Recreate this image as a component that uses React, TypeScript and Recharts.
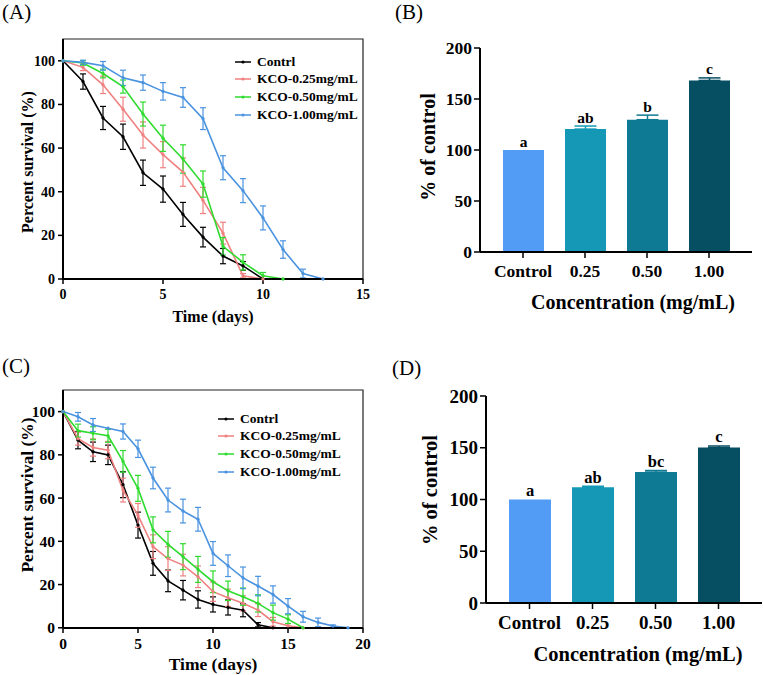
import React from 'react';
import { LineChart, Line, BarChart, Bar, XAxis, YAxis, ErrorBar, ReferenceArea, Legend, LabelList, Label } from 'recharts';

const FONT = 'Liberation Serif, Times New Roman, serif';

const SERIES_NAMES = ['Contrl', 'KCO-0.25mg/mL', 'KCO-0.50mg/mL', 'KCO-1.00mg/mL'];
const SERIES_COLORS = ['#000000', '#F08080', '#2EDB2E', '#4A93E0'];

// (A) survival, first assay
const daysA = [0, 1, 2, 3, 4, 5, 6, 7, 8, 9, 10, 11, 12, 13];
const ctrlA = [100, 90.5, 73.8, 65.2, 48.7, 41.2, 29.6, 19.2, 10.5, 6, 0];
const ctrlErrA = [null, 3.5, 5.3, 5.8, 5.8, 6, 5.5, 4.5, 3.5, 2, null];
const lowA = [100, 97, 89, 77.8, 66, 57, 49, 36, 21, 1.5, 0];
const lowErrA = [null, 1.5, 4, 5.5, 6, 6, 6.5, 6, 5, 1, null];
const midA = [100, 99, 94.2, 88.2, 75.6, 64.5, 55, 43.5, 15, 7.6, 1.5, 0];
const midErrA = [null, 1, 2, 3, 5.5, 6, 6.5, 6, 4, 3.5, 1.5, null];
const highA = [100, 99.3, 97.7, 92.2, 90, 86, 83.2, 73.5, 51, 40.5, 28, 13.5, 2.5, 0];
const highErrA = [null, 1, 2, 3.5, 3.5, 4, 4.5, 5, 5.5, 5.5, 5.5, 4, 2, null];

// (C) survival, second assay
const daysC = [0, 1, 2, 3, 4, 5, 6, 7, 8, 9, 10, 11, 12, 13, 14, 15, 16, 17, 18, 19];
const ctrlC = [100, 86.8, 81.4, 80, 66.2, 47.5, 29.8, 21.7, 17.4, 13.1, 10.8, 9.4, 8.1, 1.4, 0];
const ctrlErrC = [null, 4, 4.5, 4.5, 6, 6, 5.5, 5, 4.5, 4, 3.5, 3.5, 3, 1, null];
const lowC = [100, 87.5, 83.4, 82.2, 63.7, 52, 37.5, 32, 29, 23.6, 16.7, 13.9, 11.3, 8.2, 2.8, 0.9, 0];
const lowErrC = [null, 3, 4, 4, 5.5, 5.5, 5.5, 5.5, 5, 5, 4.5, 4, 3.5, 3, 2, 1, null];
const midC = [100, 91.2, 90, 88.8, 77, 64.5, 45.3, 38.6, 32.9, 27, 21.3, 17.1, 14.4, 11.3, 7, 4, 0];
const midErrC = [null, 3, 3, 3, 5, 6, 6, 6, 6, 6, 5, 4.5, 4, 4, 3.5, 2, null];
const highC = [100, 97.6, 93.8, 92.3, 90.8, 82.8, 69.3, 59.1, 54, 50.2, 34.4, 28.7, 23.1, 19.3, 15.4, 10, 5.1, 2.5, 0.8, 0];
const highErrC = [null, 2, 3, null, 3.5, 4, 5, 5.5, 5.5, 5.5, 5.5, 5, 5, 4.5, 4, 3.5, 2.5, 2, 0.5, null];

const SURVIVAL_TICKS = [0, 20, 40, 60, 80, 100];

// (B) / (D) bar panels
const CONCENTRATIONS = ['Control', '0.25', '0.50', '1.00'];
const BAR_COLORS = ['#529CF6', '#1598B5', '#0E7A93', '#064F62'];
const valuesB = [100, 120.5, 129.7, 168.2];
const errorsB = [0, 3, 4.5, 2.5];
const lettersB = ['a', 'ab', 'b', 'c'];
const valuesD = [100, 111.8, 126.5, 150.2];
const errorsD = [0, 1, 1.5, 1.5];
const lettersD = ['a', 'ab', 'bc', 'c'];
const BAR_TICKS = [0, 50, 100, 150, 200];

const buildRows = (days: number[], series: number[][], errors: (number | null)[][]) =>
  days.map((day, i) => {
    const row: any = { day };
    series.forEach((vals, s) => {
      if (i < vals.length) {
        row[`s${s}`] = vals[i];
        if (errors[s][i] != null) row[`e${s}`] = errors[s][i];
      }
    });
    return row;
  });

const rowsA = buildRows(daysA, [ctrlA, lowA, midA, highA], [ctrlErrA, lowErrA, midErrA, highErrA]);
const rowsC = buildRows(daysC, [ctrlC, lowC, midC, highC], [ctrlErrC, lowErrC, midErrC, highErrC]);

const axisTitle = (text: string, x: number, y: number, fs: number, rotate = false) => () => (
  <text
    x={x}
    y={y}
    textAnchor="middle"
    dominantBaseline={rotate ? 'central' : 'auto'}
    transform={rotate ? `rotate(-90 ${x} ${y})` : undefined}
    style={{ fontFamily: FONT, fontWeight: 700, fontSize: fs }}
    fill="#000"
  >
    {text}
  </text>
);

const tickStyle = (fs: number) => ({ fill: '#000', fontSize: fs, fontWeight: 700, fontFamily: FONT, style: { fontFamily: FONT } });

const SurvivalLegend = ({ payload, rowH }: any) => (
  <div>
    {(payload || []).map((p: any) => (
      <div key={p.value} style={{ display: 'flex', alignItems: 'center', height: rowH }}>
        <svg width={22} height={10} style={{ display: 'block' }}>
          <line x1={0} x2={16} y1={5} y2={5} stroke={p.color} strokeWidth={1.5} />
          <circle cx={8} cy={5} r={1.6} fill={p.color} />
        </svg>
        <span style={{ fontFamily: FONT, fontWeight: 700, fontSize: 13.5, color: '#000', whiteSpace: 'nowrap' }}>{p.value}</span>
      </div>
    ))}
  </div>
);

interface SurvivalProps {
  rows: any[];
  xMax: number;
  xTicks: number[];
  height: number;
  top: number;
  xAxisH: number;
  tickFs: number;
  titleFs: number;
  xTitleY: number;
  yTitleY: number;
  legendTop: number;
  legendLeft: number;
}

const SurvivalPanel = ({ rows, xMax, xTicks, height, top, xAxisH, tickFs, titleFs, xTitleY, yTitleY, legendTop, legendLeft }: SurvivalProps) => (
  <LineChart width={380} height={height} data={rows} margin={{ top, right: 17, left: 3, bottom: 7 }}>
    <ReferenceArea x1={0} x2={xMax} y1={0} y2={110} fill="none" stroke="#222" strokeWidth={1.2} ifOverflow="visible" />
    <XAxis
      type="number"
      dataKey="day"
      domain={[0, xMax]}
      ticks={xTicks}
      height={xAxisH}
      tick={tickStyle(tickFs)}
      tickSize={5}
      tickMargin={5}
      axisLine={{ stroke: '#000', strokeWidth: 2 }}
      tickLine={{ stroke: '#000', strokeWidth: 1.5 }}
    >
      <Label content={axisTitle('Time (days)', 213, xTitleY, titleFs)} />
    </XAxis>
    <YAxis
      type="number"
      domain={[0, 110]}
      ticks={SURVIVAL_TICKS}
      width={60}
      tick={tickStyle(tickFs)}
      tickSize={5}
      tickMargin={3}
      axisLine={{ stroke: '#000', strokeWidth: 2 }}
      tickLine={{ stroke: '#000', strokeWidth: 1.5 }}
    >
      <Label content={axisTitle('Percent survival (%)', 27, yTitleY, titleFs, true)} />
    </YAxis>
    {SERIES_NAMES.map((name, s) => (
      <Line
        key={name}
        type="linear"
        dataKey={`s${s}`}
        name={name}
        stroke={SERIES_COLORS[s]}
        strokeWidth={1.6}
        dot={{ r: 1.4, fill: SERIES_COLORS[s], stroke: SERIES_COLORS[s], strokeWidth: 0.5 }}
        isAnimationActive={false}
      >
        <ErrorBar dataKey={`e${s}`} width={3} stroke={SERIES_COLORS[s]} strokeWidth={1.2} direction="y" isAnimationActive={false} />
      </Line>
    ))}
    <Legend
      layout="vertical"
      align="center"
      verticalAlign="middle"
      wrapperStyle={{ top: legendTop, left: legendLeft, width: 'auto', height: 'auto' }}
      content={(props: any) => <SurvivalLegend payload={props.payload} rowH={17.6} />}
    />
  </LineChart>
);

interface BarProps {
  values: number[];
  errors: number[];
  letters: string[];
  height: number;
  margin: { top: number; right: number; left: number; bottom: number };
  xAxisH: number;
  barSize: number;
  tickFs: number;
  titleFs: number;
  letterFs: number;
  xTitle: [number, number];
  yTitle: [number, number];
}

const BarPanel = ({ values, errors, letters, height, margin, xAxisH, barSize, tickFs, titleFs, letterFs, xTitle, yTitle }: BarProps) => {
  const rows = CONCENTRATIONS.map((name, i) => {
    const row: any = { name };
    row[`v${i}`] = values[i];
    if (errors[i]) row[`e${i}`] = [0, errors[i]];
    return row;
  });
  // each stacked series holds one bar only, so draw its letter where the bar has height
  const letterLabel = (i: number) => (props: any) => {
    if (!props.height || props.height <= 0) return null;
    const pxPer = props.height / values[i];
    const y = props.y - errors[i] * pxPer - 3.5;
    return (
      <text x={props.x + props.width / 2} y={y} textAnchor="middle" fill="#000" style={{ fontFamily: FONT, fontWeight: 700, fontSize: letterFs }}>
        {letters[i]}
      </text>
    );
  };
  return (
    <BarChart width={383} height={height} data={rows} margin={margin} barSize={barSize}>
      <XAxis
        dataKey="name"
        padding={{ left: 12, right: 12 }}
        height={xAxisH}
        tick={tickStyle(tickFs)}
        tickSize={6}
        tickMargin={7}
        interval={0}
        axisLine={{ stroke: '#000', strokeWidth: 2 }}
        tickLine={{ stroke: '#000', strokeWidth: 1.5 }}
      >
        <Label content={axisTitle('Concentration (mg/mL)', xTitle[0], xTitle[1], titleFs)} />
      </XAxis>
      <YAxis
        type="number"
        domain={[0, 200]}
        ticks={BAR_TICKS}
        width={60}
        tick={tickStyle(tickFs)}
        tickSize={6}
        tickMargin={2}
        axisLine={{ stroke: '#000', strokeWidth: 2 }}
        tickLine={{ stroke: '#000', strokeWidth: 1.5 }}
      >
        <Label content={axisTitle('% of control', yTitle[0], yTitle[1], titleFs, true)} />
      </YAxis>
      {CONCENTRATIONS.map((c, i) => (
        <Bar key={c} dataKey={`v${i}`} stackId="s" fill={BAR_COLORS[i]} isAnimationActive={false}>
          <ErrorBar dataKey={`e${i}`} width={11} stroke={BAR_COLORS[i]} strokeWidth={1.5} direction="y" isAnimationActive={false} />
          <LabelList content={letterLabel(i)} />
        </Bar>
      ))}
    </BarChart>
  );
};

const panelLabel: React.CSSProperties = { position: 'absolute', fontFamily: FONT, fontSize: 21, lineHeight: '21px', color: '#000' };

const App = () => (
  <div style={{ position: 'absolute', left: 0, top: 0, width: 763, height: 675, background: '#fff', overflow: 'hidden', fontFamily: FONT }}>
    <div style={{ position: 'absolute', left: 0, top: 0 }}>
      <SurvivalPanel
        rows={rowsA}
        xMax={15}
        xTicks={[0, 5, 10, 15]}
        height={330}
        top={39}
        xAxisH={44}
        tickFs={14}
        titleFs={16}
        xTitleY={321.5}
        yTitleY={162}
        legendTop={53}
        legendLeft={235}
      />
    </div>
    <div style={{ position: 'absolute', left: 380, top: 0 }}>
      <BarPanel
        values={valuesB}
        errors={errorsB}
        letters={lettersB}
        height={330}
        margin={{ top: 48, right: 11, left: 40, bottom: 8 }}
        xAxisH={70}
        barSize={41}
        tickFs={17.5}
        titleFs={20}
        letterFs={15.5}
        xTitle={[253, 309]}
        yTitle={[48, 147]}
      />
    </div>
    <div style={{ position: 'absolute', left: 0, top: 330 }}>
      <SurvivalPanel
        rows={rowsC}
        xMax={20}
        xTicks={[0, 5, 10, 15, 20]}
        height={345}
        top={60}
        xAxisH={40}
        tickFs={15.5}
        titleFs={17.5}
        xTitleY={340}
        yTitleY={165}
        legendTop={80}
        legendLeft={218}
      />
    </div>
    <div style={{ position: 'absolute', left: 380, top: 330 }}>
      <BarPanel
        values={valuesD}
        errors={errorsD}
        letters={lettersD}
        height={345}
        margin={{ top: 66, right: 1, left: 46, bottom: 7 }}
        xAxisH={65}
        barSize={42}
        tickFs={19}
        titleFs={20.5}
        letterFs={16.5}
        xTitle={[258, 331]}
        yTitle={[50, 160]}
      />
    </div>
    <div style={{ ...panelLabel, left: 2, top: 2 }}>(A)</div>
    <div style={{ ...panelLabel, left: 395, top: 2 }}>(B)</div>
    <div style={{ ...panelLabel, left: 2, top: 356 }}>(C)</div>
    <div style={{ ...panelLabel, left: 392, top: 358 }}>(D)</div>
  </div>
);

export default App;
